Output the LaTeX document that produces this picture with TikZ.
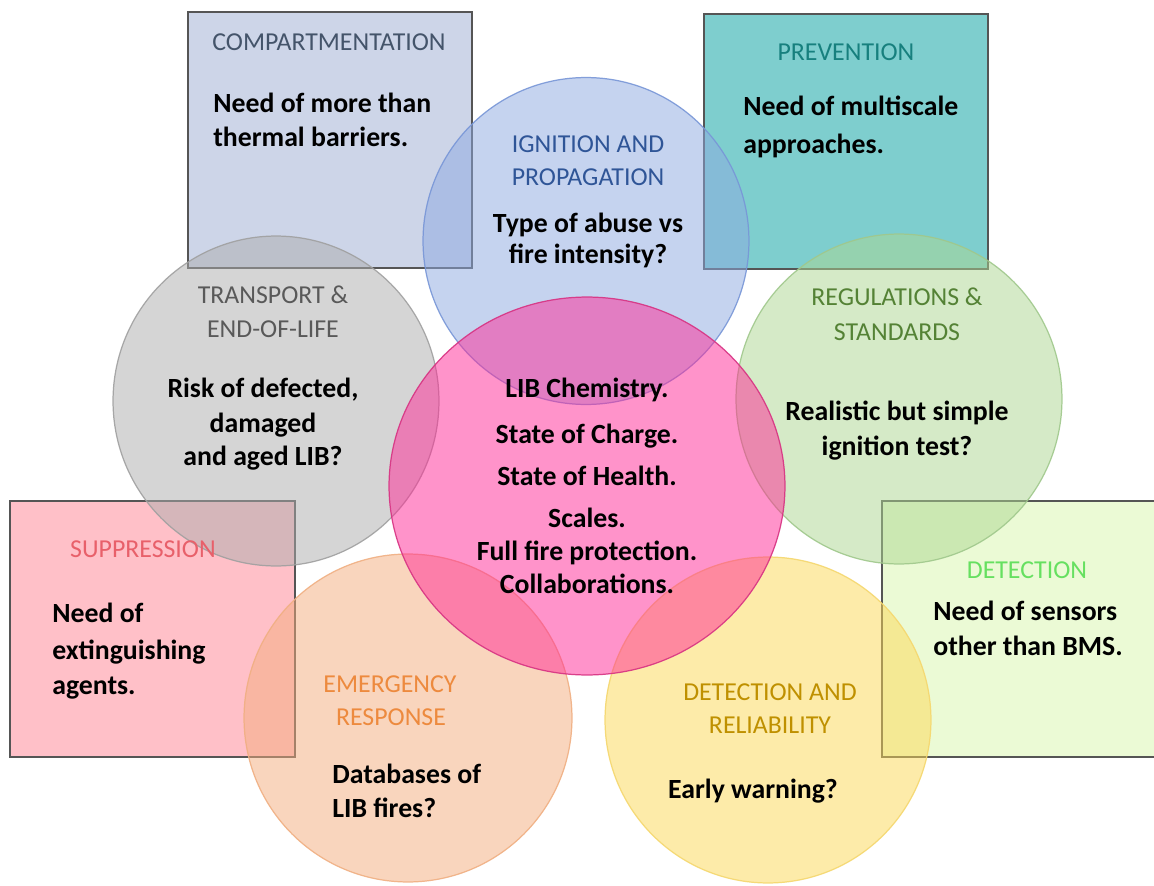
\documentclass[tikz,border=0pt]{standalone}
\usepackage{fontspec}
\setmainfont{Carlito}
\definecolor{boxline}{RGB}{85,85,85}
\definecolor{compfill}{RGB}{205,213,232}
\definecolor{comptext}{RGB}{68,84,106}
\definecolor{prevfill}{RGB}{126,206,206}
\definecolor{prevtext}{RGB}{23,128,126}
\definecolor{suppfill}{RGB}{255,192,200}
\definecolor{supptext}{RGB}{232,96,106}
\definecolor{detfill}{RGB}{235,250,213}
\definecolor{dettext}{RGB}{102,224,96}
\definecolor{ignfill}{RGB}{141,169,225}
\definecolor{ignline}{RGB}{120,150,215}
\definecolor{igntext}{RGB}{47,85,151}
\definecolor{trafill}{RGB}{173,173,173}
\definecolor{traline}{RGB}{160,160,160}
\definecolor{tratext}{RGB}{89,89,89}
\definecolor{regfill}{RGB}{173,215,145}
\definecolor{regline}{RGB}{160,200,140}
\definecolor{regtext}{RGB}{84,130,53}
\definecolor{emefill}{RGB}{245,173,125}
\definecolor{emeline}{RGB}{240,175,130}
\definecolor{emetext}{RGB}{237,138,62}
\definecolor{yelfill}{RGB}{253,217,85}
\definecolor{yelline}{RGB}{245,215,110}
\definecolor{yeltext}{RGB}{191,144,0}
\definecolor{pinkfill}{RGB}{255,40,150}
\definecolor{pinkline}{RGB}{215,50,130}
\begin{document}
\begin{tikzpicture}[x=0.02cm,y=-0.02cm,
  bodyc/.style={anchor=base, inner sep=0pt, font=\fontsize{15.8}{19}\selectfont\bfseries, text=black},
  bodyl/.style={bodyc, anchor=base west},
  ttl/.style={anchor=base, inner sep=0pt, font=\fontsize{14.7}{18}\selectfont},
  boxshape/.style={draw=boxline, line width=0.8pt},
  bubble/.style={fill opacity=0.5, draw opacity=0.9, line width=0.7pt}]
\useasboundingbox (0,0) rectangle (1154,886);
\clip (0,0) rectangle (1154,886);
\fill[white] (0,0) rectangle (1154,886);
% boxes
\path[boxshape, fill=compfill] (188,12) rectangle (472,268);
\path[boxshape, fill=prevfill] (704,14) rectangle (988,269);
\path[boxshape, fill=suppfill] (10,501) rectangle (295,757);
\path[boxshape, fill=detfill] (882,501) rectangle (1170,757);
% circles
\path[bubble, fill=ignfill, draw=ignline] (586,241) ellipse [x radius=3.26cm, y radius=3.27cm];
\path[bubble, fill=trafill, draw=traline] (276,401) ellipse [x radius=3.26cm, y radius=3.3cm];
\path[bubble, fill=regfill, draw=regline] (899,399) ellipse [x radius=3.26cm, y radius=3.3cm];
\path[bubble, fill=emefill, draw=emeline] (408,718) ellipse [x radius=3.28cm, y radius=3.28cm];
\path[bubble, fill=yelfill, draw=yelline] (768,720) ellipse [x radius=3.26cm, y radius=3.26cm];
\path[bubble, fill=pinkfill, draw=pinkline, fill opacity=0.5] (587,486) ellipse [x radius=3.96cm, y radius=3.78cm];
% compartmentation
\node[ttl, text=comptext] (compT) at (329,50) {COMPARTMENTATION};
\node[bodyl] (compA) at (213,112) {Need of more than};
\node[bodyl] (compB) at (213,146) {thermal barriers.};
% prevention
\node[ttl, text=prevtext] (prevT) at (846,60) {PREVENTION};
\node[bodyl] (prevA) at (743,115) {Need of multiscale};
\node[bodyl] (prevB) at (743,153) {approaches.};
% suppression
\node[ttl, text=supptext] (suppT) at (143,557) {SUPPRESSION};
\node[bodyl] (suppA) at (52,622) {Need of};
\node[bodyl] (suppB) at (52,659) {extinguishing};
\node[bodyl] (suppC) at (52,694) {agents.};
% detection
\node[ttl, text=dettext] (detT) at (1027,578) {DETECTION};
\node[bodyl] (detA) at (933,620) {Need of sensors};
\node[bodyl] (detB) at (933,655) {other than BMS.};
% ignition
\node[ttl, text=igntext] (ignT1) at (588,152) {IGNITION AND};
\node[ttl, text=igntext] (ignT2) at (588,185) {PROPAGATION};
\node[bodyc] (ignA) at (588,232) {Type of abuse vs};
\node[bodyc] (ignB) at (588,263) {fire intensity?};
% transport
\node[ttl, text=tratext] (traT1) at (273,303) {TRANSPORT \&};
\node[ttl, text=tratext] (traT2) at (273,337) {END-OF-LIFE};
\node[bodyc] (traA) at (263,397) {Risk of defected,};
\node[bodyc] (traB) at (263,432) {damaged};
\node[bodyc] (traC) at (263,465) {and aged LIB?};
% regulations
\node[ttl, text=regtext] (regT1) at (897,305) {REGULATIONS \&};
\node[ttl, text=regtext] (regT2) at (897,340) {STANDARDS};
\node[bodyc] (regA) at (897,420) {Realistic but simple};
\node[bodyc] (regB) at (897,455) {ignition test?};
% emergency
\node[ttl, text=emetext] (emeT1) at (390,692) {EMERGENCY};
\node[ttl, text=emetext] (emeT2) at (391,725) {RESPONSE};
\node[bodyl] (emeA) at (332,783) {Databases of};
\node[bodyl] (emeB) at (332,817) {LIB fires?};
% detection and reliability
\node[ttl, text=yeltext] (yelT1) at (770,700) {DETECTION AND};
\node[ttl, text=yeltext] (yelT2) at (770,733) {RELIABILITY};
\node[bodyc] (yelA) at (753,798) {Early warning?};
% centre
\node[bodyc] (cenA) at (587,397) {LIB Chemistry.};
\node[bodyc] (cenB) at (587,443) {State of Charge.};
\node[bodyc] (cenC) at (587,485) {State of Health.};
\node[bodyc] (cenD) at (587,527) {Scales.};
\node[bodyc] (cenE) at (587,560) {Full fire protection.};
\node[bodyc] (cenF) at (587,593) {Collaborations.};
\end{tikzpicture}
\end{document}
